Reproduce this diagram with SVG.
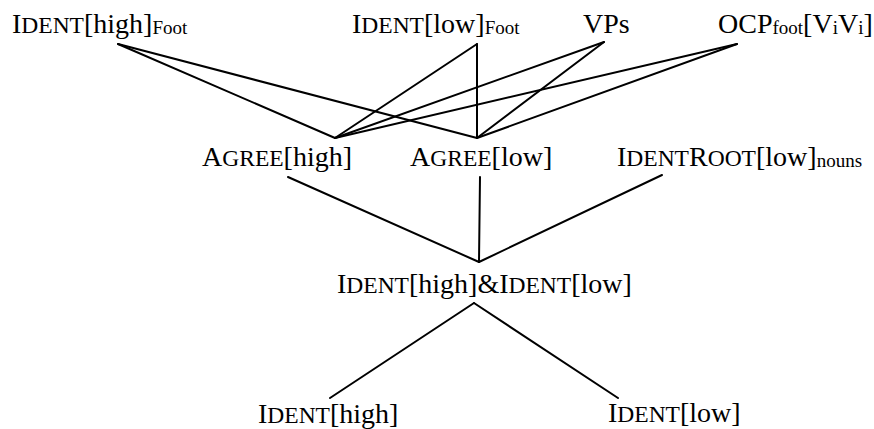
<svg xmlns="http://www.w3.org/2000/svg" width="874" height="429" viewBox="0 0 874 429">
<style>
.t { font-family: 'Liberation Serif', 'Times New Roman', serif; font-size: 28px; fill: #000; }
.sc { font-size: 23.5px; }
.sub { font-size: 19px; }
.edges line { stroke: #000; stroke-width: 2; stroke-linecap: round; }
</style>
<rect width="874" height="429" fill="#fff"/>
<g class="edges" id="connectors">
  <line x1="118" y1="44" x2="335" y2="138"/>
  <line x1="118" y1="44" x2="477" y2="138"/>
  <line x1="477" y1="44" x2="335" y2="138"/>
  <line x1="477" y1="44" x2="477" y2="138"/>
  <line x1="604" y1="42" x2="335" y2="138"/>
  <line x1="604" y1="42" x2="477" y2="138"/>
  <line x1="737" y1="44" x2="335" y2="138"/>
  <line x1="737" y1="44" x2="477" y2="138"/>
  <line x1="288" y1="177" x2="479" y2="262"/>
  <line x1="480" y1="177" x2="479" y2="262"/>
  <line x1="662" y1="175" x2="479" y2="262"/>
  <line x1="474" y1="303" x2="330" y2="398"/>
  <line x1="474" y1="303" x2="618" y2="398"/>
</g>
<g id="ident-high-foot"><text class="t" x="12" y="33">I<tspan class="sc">DENT</tspan>[high]<tspan class="sub" dy="1">Foot</tspan></text></g>
<g id="ident-low-foot"><text class="t" x="352" y="33">I<tspan class="sc">DENT</tspan>[low]<tspan class="sub" dy="1">Foot</tspan></text></g>
<g id="vps"><text class="t" x="583" y="33">VPs</text></g>
<g id="ocp"><text class="t" x="718" y="33">OCP<tspan class="sub" dy="1">foot</tspan><tspan dy="-1">[V</tspan><tspan class="sub" dy="1">i</tspan><tspan dy="-1">V</tspan><tspan class="sub" dy="1">i</tspan><tspan dy="-1">]</tspan></text></g>
<g id="agree-high"><text class="t" x="202" y="166">A<tspan class="sc">GREE</tspan>[high]</text></g>
<g id="agree-low"><text class="t" x="410" y="166">A<tspan class="sc">GREE</tspan>[low]</text></g>
<g id="identroot-low"><text class="t" x="617" y="166">I<tspan class="sc">DENT</tspan>R<tspan class="sc">OOT</tspan>[low]<tspan class="sub" dy="1">nouns</tspan></text></g>
<g id="ident-high-and-low"><text class="t" x="337" y="293">I<tspan class="sc">DENT</tspan>[high]&amp;I<tspan class="sc">DENT</tspan>[low]</text></g>
<g id="ident-high"><text class="t" x="258" y="423">I<tspan class="sc">DENT</tspan>[high]</text></g>
<g id="ident-low"><text class="t" x="608" y="422">I<tspan class="sc">DENT</tspan>[low]</text></g>
</svg>
